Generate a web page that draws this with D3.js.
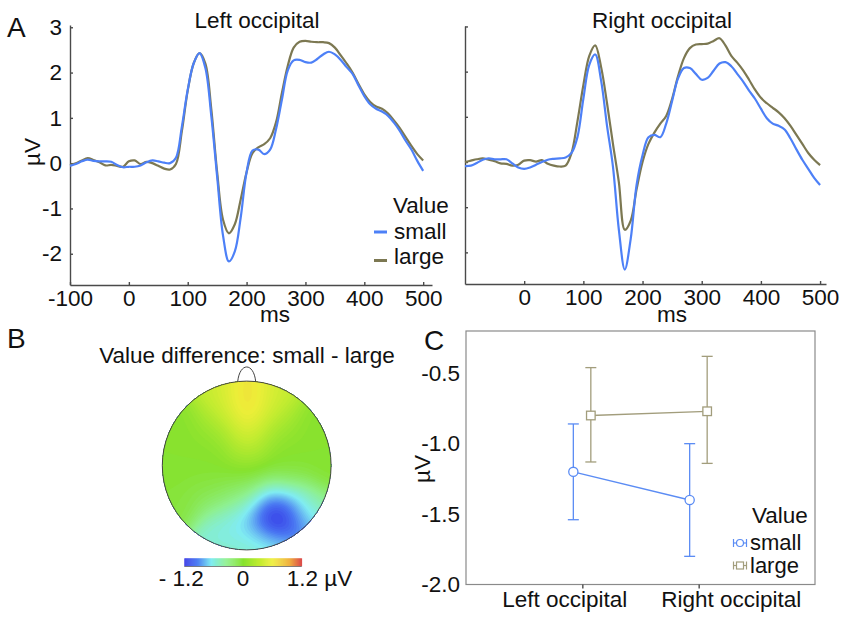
<!DOCTYPE html>
<html lang="en">
<head>
<meta charset="utf-8">
<title>Value effect on occipital ERPs</title>
<style>
body { margin: 0; background: #fff; }
svg { display: block; font-family: "Liberation Sans", Arial, sans-serif; }
.axis path, .axis line { stroke: #4a4a4a; stroke-width: 1.4; }
.axis text { font-size: 22.5px; fill: #111; font-family: "Liberation Sans", Arial, sans-serif; }
.lbl { font-size: 22.5px; fill: #111; }
.panel { font-size: 28px; fill: #111; }
</style>
</head>
<body>
<svg width="841" height="617"></svg>
<script src="https://cdn.jsdelivr.net/npm/d3@7"></script>
<script>

// ---- A: ERP waveforms, one sample each 10 ms ----
const times = [-100,-90,-80,-70,-60,-50,-40,-30,-20,-10,0,10,20,30,40,50,60,70,80,90,
  100,110,120,130,140,150,160,170,180,190,200,210,220,230,240,250,260,270,280,290,
  300,310,320,330,340,350,360,370,380,390,400,410,420,430,440,450,460,470,480,490,500];

const leftSmall = [-0.06,-0.02,0.04,0.08,0.05,0.04,0.04,0.03,-0.04,-0.09,-0.08,-0.08,-0.05,0.02,0.06,0.04,0.01,0.0,0.12,0.8,
  1.62,2.2,2.43,2.1,1.05,-0.3,-1.6,-2.17,-1.95,-1.2,-0.2,0.28,0.3,0.2,0.3,0.75,1.4,2.05,2.27,2.28,
  2.23,2.22,2.3,2.4,2.46,2.4,2.28,2.12,1.97,1.72,1.48,1.3,1.2,1.14,1.05,0.9,0.72,0.5,0.3,0.05,-0.17];
const leftLarge = [-0.04,0.0,0.06,0.11,0.07,0.02,-0.05,-0.04,-0.06,-0.08,0.04,0.06,-0.02,0.03,0.0,-0.06,-0.12,-0.14,-0.02,0.7,
  1.6,2.2,2.43,2.2,1.2,-0.2,-1.25,-1.55,-1.35,-0.8,-0.2,0.22,0.35,0.42,0.55,0.9,1.55,2.15,2.55,2.68,
  2.7,2.68,2.67,2.67,2.65,2.55,2.38,2.2,2.0,1.75,1.52,1.35,1.25,1.2,1.1,0.95,0.78,0.58,0.38,0.2,0.06];
const rightSmall = [-0.09,-0.08,-0.02,0.05,0.08,0.06,0.06,0.06,-0.03,-0.12,-0.15,-0.12,-0.06,0.0,0.05,0.07,0.08,0.1,0.2,0.55,
  1.4,2.15,2.38,1.8,0.8,-0.1,-1.5,-2.38,-1.7,-0.5,0.15,0.55,0.6,0.55,0.85,1.35,1.85,2.08,2.08,1.95,
  1.82,1.86,2.02,2.18,2.21,2.12,1.95,1.78,1.58,1.4,1.18,0.97,0.85,0.8,0.72,0.52,0.28,0.05,-0.15,-0.35,-0.51];
const rightLarge = [0.0,0.03,0.06,0.08,0.05,0.02,-0.03,-0.04,-0.08,-0.06,0.03,0.04,0.01,0.04,-0.04,-0.08,-0.1,-0.08,0.2,0.9,
  1.7,2.35,2.58,2.1,1.3,0.4,-0.45,-1.5,-1.3,-0.6,0.0,0.4,0.65,0.85,1.02,1.4,1.9,2.3,2.52,2.6,
  2.61,2.62,2.68,2.74,2.58,2.35,2.2,2.03,1.82,1.6,1.42,1.3,1.2,1.1,0.97,0.8,0.6,0.4,0.2,0.05,-0.07];

const valueLevels = ['small', 'large'];
const erpColors = ['#4d80f7', '#7c7852'];

// ---- B: scalp map of small - large (µV), electrodes on a unit head, front up ----
const elecNames = ['Fp1','Fpz','Fp2','AF3','AFz','AF4','F7','F3','Fz','F4','F8','FC3','FCz','FC4',
  'T7','C3','Cz','C4','T8','CP3','CPz','CP4','P7','P3','Pz','P4','P8','PO3','POz','PO4','PO8','O1','Oz','O2'];
const elecX = [-0.3,0,0.3,-0.3,0,0.3,-0.7,-0.35,0,0.35,0.7,-0.4,0,0.4,
  -0.95,-0.45,0,0.45,0.95,-0.4,0,0.4,-0.75,-0.35,0,0.35,0.75,-0.3,0,0.3,0.62,-0.3,0,0.3];
const elecY = [0.85,0.9,0.85,0.65,0.72,0.65,0.5,0.45,0.45,0.45,0.5,0.22,0.25,0.22,
  0,0,0,0,0,-0.25,-0.25,-0.25,-0.45,-0.45,-0.45,-0.45,-0.45,-0.7,-0.7,-0.58,-0.62,-0.9,-0.95,-0.9];
const elecVal = [0.35,0.7,0.35,0.42,0.9,0.42,0.0,0.08,0.6,0.08,0.0,0.0,0.3,0.0,
  0,0,0.05,0,0,-0.05,-0.1,-0.2,-0.05,-0.25,-0.45,-1.15,-0.3,-0.7,-0.85,-1.7,-0.95,-0.5,-0.45,-0.6];
const mapStops = [-1.2,-0.95,-0.65,-0.35,0,0.35,0.6,0.95,1.2];
const mapColors = ['#3434e6','#4a78f2','#80ecf2','#8ef090','#86e22e','#c4ec30','#eeee38','#f0b040','#dc4a4a'];

// ---- C: mean amplitude with CI ----
const sites = ['Left occipital', 'Right occipital'];
const smallMean = [-1.20, -1.40];
const smallLo = [-1.54, -1.80];
const smallHi = [-0.86, -1.00];
const largeMean = [-0.80, -0.77];
const largeLo = [-1.13, -1.14];
const largeHi = [-0.46, -0.38];
const meanTicks = [-2.0, -1.5, -1.0, -0.5];
const meanColors = ['#5b8cf4', '#a29d7c'];

const svg = d3.select('svg');

// ---------------- A ----------------
function erpPanel(o) {
  const x = d3.scaleLinear().domain(o.xDomain).range([o.left, o.right]);
  const y = d3.scaleLinear().domain(o.yDomain).range([o.bottom, o.top]);

  svg.append('g')
    .attr('class', 'axis')
    .attr('transform', 'translate(0,' + o.bottom + ')')
    .call(d3.axisBottom(x).tickValues(o.xTicks).tickSize(-3).tickSizeOuter(0).tickPadding(5)
      .tickFormat(d => String(d)));

  svg.append('g')
    .attr('class', 'axis')
    .attr('transform', 'translate(' + o.left + ',0)')
    .call(d3.axisLeft(y).tickValues([-2, -1, 0, 1, 2, 3]).tickSize(-3).tickSizeOuter(0)
      .tickPadding(8).tickFormat(d => o.yLabels ? String(d) : ''));

  const line = d3.line()
    .x((d, i) => x(times[i]))
    .y(d => y(d))
    .curve(d3.curveCatmullRom);

  [o.large, o.small].forEach((s, k) => {
    svg.append('path')
      .datum(s)
      .attr('fill', 'none')
      .attr('stroke', erpColors[1 - k])
      .attr('stroke-width', 2.2)
      .attr('d', line);
  });

  svg.append('text').attr('class', 'lbl')
    .attr('x', o.titleX).attr('y', 28)
    .attr('text-anchor', 'middle')
    .text(o.title);
  svg.append('text').attr('class', 'lbl')
    .attr('x', o.msX).attr('y', 322)
    .attr('text-anchor', 'middle')
    .text('ms');
}

erpPanel({left: 70, right: 432, top: 25, bottom: 285, xDomain: [-100, 515], yDomain: [-2.69, 3.05],
  xTicks: [-100, 0, 100, 200, 300, 400, 500], yLabels: true,
  small: leftSmall, large: leftLarge, title: 'Left occipital', titleX: 257, msX: 275});
erpPanel({left: 465, right: 826, top: 26, bottom: 284, xDomain: [-100, 510], yDomain: [-2.70, 3.01],
  xTicks: [0, 100, 200, 300, 400, 500], yLabels: false,
  small: rightSmall, large: rightLarge, title: 'Right occipital', titleX: 662, msX: 672});

svg.append('text').attr('class', 'lbl')
  .attr('transform', 'translate(40,152) rotate(-90)')
  .attr('text-anchor', 'middle')
  .text('µV');

svg.append('text').attr('class', 'panel').attr('x', 7).attr('y', 37).text('A');

// legend A
const legA = svg.append('g').attr('class', 'lbl');
legA.append('text').attr('x', 393).attr('y', 213).text('Value');
valueLevels.forEach((v, i) => {
  legA.append('line')
    .attr('x1', 374).attr('x2', 387)
    .attr('y1', 232 + i * 28.5).attr('y2', 232 + i * 28.5)
    .attr('stroke', erpColors[i]).attr('stroke-width', 3);
  legA.append('text').attr('x', 394).attr('y', 239 + i * 24.5).text(v);
});

// ---------------- B ----------------
svg.append('text').attr('class', 'panel').attr('x', 7).attr('y', 348).text('B');
svg.append('text').attr('class', 'lbl')
  .attr('x', 247).attr('y', 363)
  .attr('text-anchor', 'middle')
  .text('Value difference: small - large');

const head = {cx: 246.7, cy: 465.5, r: 84.4};
const mapColor = d3.scaleLinear().domain(mapStops).range(mapColors).clamp(true);

const n = 101;
const sigma = 0.19;
const grid = new Array(n * n);
for (let j = 0; j < n; j++) {
  for (let i = 0; i < n; i++) {
    const px = -1 + 2 * i / (n - 1);
    const py = 1 - 2 * j / (n - 1);
    let ws = 0, vs = 0;
    for (let k = 0; k < elecVal.length; k++) {
      const d2 = (px - elecX[k]) ** 2 + (py - elecY[k]) ** 2;
      const w = Math.exp(-d2 / (2 * sigma * sigma));
      ws += w; vs += w * elecVal[k];
    }
    grid[j * n + i] = vs / ws;
  }
}
const step = 0.03;
const thresholds = d3.range(-1.8, 1.5, step);
const contours = d3.contours().size([n, n]).thresholds(thresholds)(grid);

svg.append('clipPath').attr('id', 'headclip')
  .append('circle').attr('cx', head.cx).attr('cy', head.cy).attr('r', head.r);

svg.append('g')
  .attr('clip-path', 'url(#headclip)')
  .append('g')
  .attr('transform', 'translate(' + (head.cx - head.r) + ',' + (head.cy - head.r) + ') scale(' + (2 * head.r / (n - 1)) + ')')
  .selectAll('path')
  .data(contours)
  .enter().append('path')
    .attr('d', d3.geoPath())
    .attr('fill', d => mapColor(d.value + step / 2));

svg.append('circle')
  .attr('cx', head.cx).attr('cy', head.cy).attr('r', head.r)
  .attr('fill', 'none').attr('stroke', '#444').attr('stroke-width', 1);
svg.append('path')
  .attr('d', 'M' + (head.cx - 9) + ',' + (head.cy - head.r + 0.5) +
    ' C' + (head.cx - 7) + ',' + (head.cy - head.r - 19) + ' ' + (head.cx + 7) + ',' + (head.cy - head.r - 19) +
    ' ' + (head.cx + 9) + ',' + (head.cy - head.r + 0.5))
  .attr('fill', 'none').attr('stroke', '#444').attr('stroke-width', 1);

// colour bar
const cbar = d3.scaleLinear().domain([-1.2, 1.2]).range([184.3, 301.7]);
const cbarStep = 0.02;
svg.append('g').selectAll('rect')
  .data(d3.range(-1.2, 1.2, cbarStep))
  .enter().append('rect')
    .attr('x', d => cbar(d))
    .attr('y', 558.3)
    .attr('width', cbar(cbarStep) - cbar(0) + 0.4)
    .attr('height', 8)
    .attr('fill', d => mapColor(d + cbarStep / 2));
svg.append('line')
  .attr('x1', cbar(-1.2)).attr('x2', cbar(1.2))
  .attr('y1', 566.5).attr('y2', 566.5)
  .attr('stroke', '#666').attr('stroke-width', 0.8);
const cbarLabels = [
  {v: -1.2, t: '- 1.2', anchor: 'middle', dx: -3},
  {v: 0, t: '0', anchor: 'middle', dx: 0},
  {v: 1.2, t: '1.2 µV', anchor: 'start', dx: -15}
];
svg.append('g').selectAll('text')
  .data(cbarLabels)
  .enter().append('text')
    .attr('class', 'lbl')
    .attr('x', d => cbar(d.v) + d.dx)
    .attr('y', 586)
    .attr('text-anchor', d => d.anchor)
    .text(d => d.t);

// ---------------- C ----------------
const cx = d3.scalePoint().domain(sites).range([466, 815]).padding(1);
const cy = d3.scaleLinear().domain([-2.0, -0.2]).range([584.5, 331]);

svg.append('rect')
  .attr('x', 466).attr('y', 331)
  .attr('width', 815 - 466).attr('height', 584.5 - 331)
  .attr('fill', 'none').attr('stroke', '#8a8a8a').attr('stroke-width', 1.2);

const yAxC = svg.append('g')
  .attr('class', 'axis')
  .attr('transform', 'translate(466,0)')
  .call(d3.axisLeft(cy).tickValues(meanTicks).tickFormat(d => d.toFixed(1)).tickSize(0).tickPadding(6));
yAxC.select('.domain').remove();

const xAxC = svg.append('g')
  .attr('class', 'axis')
  .attr('transform', 'translate(0,584.5)')
  .call(d3.axisBottom(cx).tickSize(4).tickSizeOuter(0).tickPadding(3));
xAxC.select('.domain').remove();
xAxC.selectAll('line').attr('stroke', '#8a8a8a').attr('stroke-width', 1);
xAxC.selectAll('text').attr('dx', (d, i) => [-18, 32][i]);

svg.append('text').attr('class', 'lbl')
  .attr('transform', 'translate(430,469) rotate(-90)')
  .attr('text-anchor', 'middle')
  .text('µV');
svg.append('text').attr('class', 'panel').attr('x', 424).attr('y', 350).text('C');

const groups = [
  {name: 'small', mean: smallMean, lo: smallLo, hi: smallHi, off: -9, color: meanColors[0], shape: 'circle'},
  {name: 'large', mean: largeMean, lo: largeLo, hi: largeHi, off: 8.5, color: meanColors[1], shape: 'square'}
];

groups.forEach(g => {
  const px = i => cx(sites[i]) + g.off;
  const gg = svg.append('g').attr('stroke', g.color).attr('fill', 'none').attr('stroke-width', 1.3);
  gg.append('path')
    .datum(g.mean)
    .attr('d', d3.line().x((d, i) => px(i)).y(d => cy(d)));
  sites.forEach((s, i) => {
    gg.append('line').attr('x1', px(i)).attr('x2', px(i)).attr('y1', cy(g.lo[i])).attr('y2', cy(g.hi[i]));
    [g.lo[i], g.hi[i]].forEach(v => {
      gg.append('line').attr('x1', px(i) - 5.5).attr('x2', px(i) + 5.5).attr('y1', cy(v)).attr('y2', cy(v));
    });
    if (g.shape === 'circle') {
      gg.append('circle').attr('cx', px(i)).attr('cy', cy(g.mean[i])).attr('r', 4.6).attr('fill', '#fff');
    } else {
      gg.append('rect').attr('x', px(i) - 4.3).attr('y', cy(g.mean[i]) - 4.3)
        .attr('width', 8.6).attr('height', 8.6).attr('fill', '#fff');
    }
  });
});

// legend C
const legC = svg.append('g').attr('class', 'lbl');
legC.append('text').attr('x', 752).attr('y', 523).text('Value');
groups.forEach((g, i) => {
  const ly = 543 + i * 22.5;
  const ic = legC.append('g').attr('stroke', g.color).attr('fill', 'none').attr('stroke-width', 1.2);
  ic.append('line').attr('x1', 733).attr('x2', 747).attr('y1', ly).attr('y2', ly);
  ic.append('line').attr('x1', 733.5).attr('x2', 733.5).attr('y1', ly - 4).attr('y2', ly + 4);
  ic.append('line').attr('x1', 746.5).attr('x2', 746.5).attr('y1', ly - 4).attr('y2', ly + 4);
  if (g.shape === 'circle') {
    ic.append('circle').attr('cx', 740).attr('cy', ly).attr('r', 3.5).attr('fill', '#fff');
  } else {
    ic.append('rect').attr('x', 736.5).attr('y', ly - 3.5).attr('width', 7).attr('height', 7).attr('fill', '#fff');
  }
  legC.append('text').attr('x', 750).attr('y', ly + 7).style('font-size', '22px').text(g.name);
});

</script>
</body>
</html>
